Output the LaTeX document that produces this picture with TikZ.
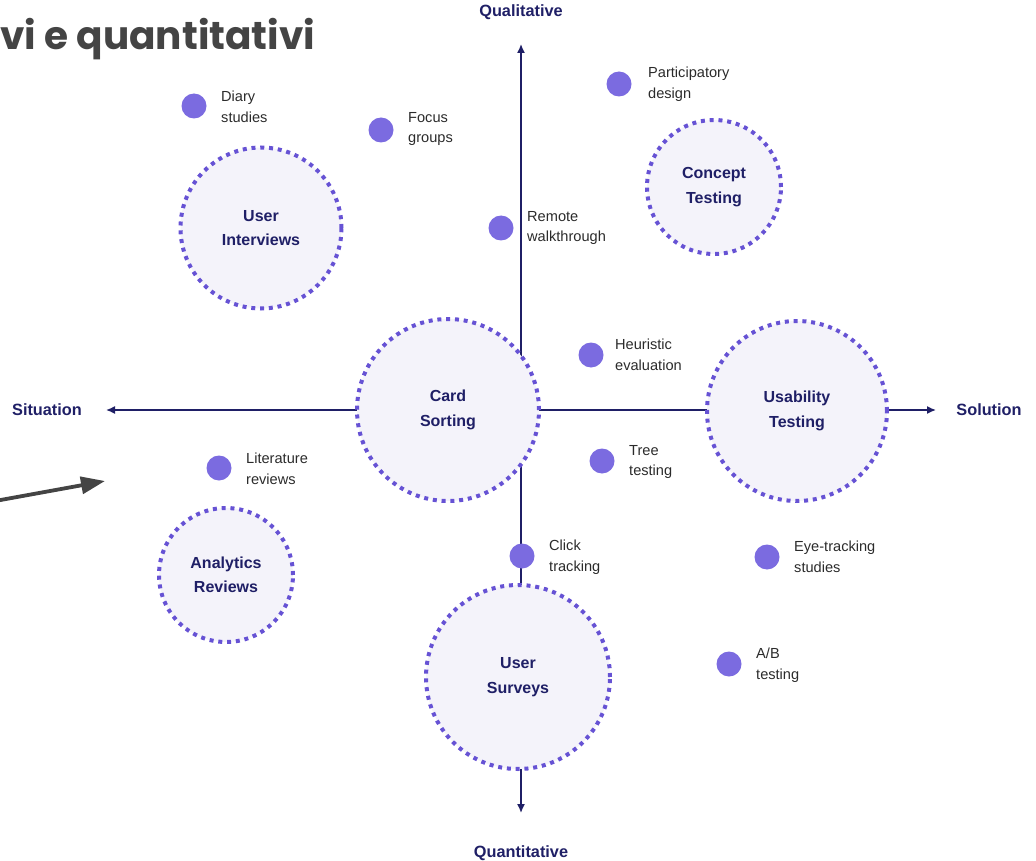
\documentclass[tikz,border=0pt]{standalone}
\usepackage{fontspec}
\setmainfont{Liberation Sans}
\newfontfamily\titlefont{Poppins}
\usetikzlibrary{arrows.meta}
\definecolor{navy}{HTML}{1F1F66}
\definecolor{ring}{HTML}{6652D4}
\definecolor{ringfill}{HTML}{F4F3FA}
\definecolor{dotc}{HTML}{7B6BE0}
\definecolor{txt}{HTML}{2B2B2B}
\definecolor{titlegray}{HTML}{444444}
\tikzset{
  axis/.style={draw=navy, line width=1.5pt, -{Latex[length=9pt,width=8pt]}},
  axislabel/.style={text=navy, font=\fontsize{16.3}{19}\selectfont\bfseries},
  bigcircle/.style={circle, draw=ring, fill=ringfill, line width=4pt, dash pattern=on 4pt off 4.8pt, text=navy, font=\fontsize{16}{24.5}\selectfont\bfseries, align=center, inner sep=0pt},
  dotnode/.style={circle, fill=dotc, minimum size=25pt, inner sep=0pt},
  dotlabel/.style={anchor=west, text=txt, font=\fontsize{14.6}{20.5}\selectfont, align=left, inner sep=0pt},
}
\begin{document}
\begin{tikzpicture}[x=1pt,y=-1pt]
\useasboundingbox (0,0) rectangle (1036,861);
% axes
\coordinate (vtop) at (521,44);
\coordinate (vbot) at (521,813);
\coordinate (hleft) at (106,410);
\coordinate (hright) at (936,410);
\coordinate (center) at (521,410);
\draw[axis] (center) -- (vtop);
\draw[axis] (center) -- (vbot);
\draw[axis] (center) -- (hleft);
\draw[axis] (center) -- (hright);
\node[axislabel] (qual) at (521,12) {Qualitative};
\node[axislabel] (quant) at (521,853) {Quantitative};
\node[axislabel] (sit) at (47,410) {Situation};
\node[axislabel] (sol) at (989,410) {Solution};
% circles
\node[bigcircle, minimum size=161pt] (ui) at (261,228) {User\\Interviews};
\node[bigcircle, minimum size=134pt] (ct) at (714,187) {Concept\\Testing};
\node[bigcircle, minimum size=182pt] (cs) at (448,410) {Card\\Sorting};
\node[bigcircle, minimum size=180pt] (ut) at (797,411) {Usability\\Testing};
\node[bigcircle, minimum size=134pt] (ar) at (226,575) {Analytics\\Reviews};
\node[bigcircle, minimum size=184pt] (us) at (518,677) {User\\Surveys};
% dots
\node[dotnode] (d1) at (194,106) {};
\node[dotlabel] (l1) at (221,107) {Diary\\studies};
\node[dotnode] (d2) at (381,130) {};
\node[dotlabel] (l2) at (408,129) {Focus\\groups};
\node[dotnode] (d3) at (619,84) {};
\node[dotlabel] (l3) at (648,84) {Participatory\\design};
\node[dotnode] (d4) at (501,228) {};
\node[dotlabel] (l4) at (527,228) {Remote\\walkthrough};
\node[dotnode] (d5) at (591,355) {};
\node[dotlabel] (l5) at (615,355) {Heuristic\\evaluation};
\node[dotnode] (d6) at (602,461) {};
\node[dotlabel] (l6) at (629,462) {Tree\\testing};
\node[dotnode] (d7) at (219,468) {};
\node[dotlabel] (l7) at (246,469) {Literature\\reviews};
\node[dotnode] (d8) at (522,556) {};
\node[dotlabel] (l8) at (549,557) {Click\\tracking};
\node[dotnode] (d9) at (767,557) {};
\node[dotlabel] (l9) at (794,557) {Eye-tracking\\studies};
\node[dotnode] (d10) at (729,664) {};
\node[dotlabel] (l10) at (756,665) {A/B\\testing};
% title fragment and pointer arrow
\node[anchor=base west, inner sep=0pt, text=titlegray, font=\titlefont\fontsize{39}{46}\selectfont\bfseries] (title) at (0,50) {vi e quantitativi};
\coordinate (pstart) at (-5,501);
\coordinate (ptip) at (105,481);
\draw[draw=titlegray, line width=3.8pt, -{Triangle[length=24pt,width=17pt]}] (pstart) -- (ptip);
\end{tikzpicture}
\end{document}
